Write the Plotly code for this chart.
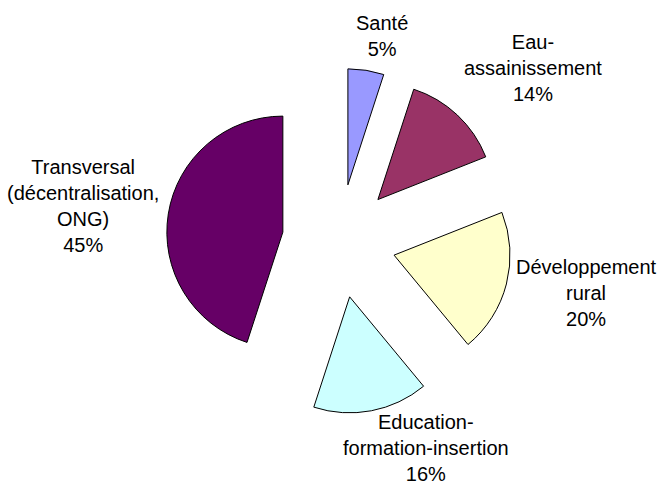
import plotly.graph_objects as go

categories = ["Santé", "Eau-<br>assainissement", "Développement<br>rural",
              "Education-<br>formation-insertion", "Transversal<br>(décentralisation,<br>ONG)"]
values = [5, 14, 20, 16, 45]
colors = ["#9999FF", "#993366", "#FFFFCC", "#CCFFFF", "#660066"]

# label block centres (screen pixels) - layout only
label_pos = [(382, 36), (533, 68), (586, 293), (426, 448), (83, 206)]

W, H = 660, 485
cx, cy, r, pull = 339, 241, 116, 0.49
half = r * (1 + pull)

fig = go.Figure(go.Pie(
    labels=categories,
    values=values,
    sort=False,
    direction="clockwise",
    rotation=0,
    pull=[pull] * len(values),
    marker=dict(colors=colors, line=dict(color="black", width=1)),
    textinfo="none",
    hoverinfo="label+percent",
    showlegend=False,
    automargin=False,
    domain=dict(x=[(cx - half) / W, (cx + half) / W],
                y=[1 - (cy + half) / H, 1 - (cy - half) / H]),
))

total = sum(values)
for lab, v, (sx, sy) in zip(categories, values, label_pos):
    fig.add_annotation(
        text=f"{lab}<br>{round(v / total * 100)}%",
        xref="paper", yref="paper",
        x=sx / W, y=1 - sy / H,
        xanchor="center", yanchor="middle",
        showarrow=False, align="center",
        font=dict(family="Liberation Sans, Arial, sans-serif", size=20, color="#000000"),
    )

fig.update_layout(
    width=W, height=H,
    autosize=False,
    margin=dict(l=0, r=0, t=0, b=0, pad=0, autoexpand=False),
    paper_bgcolor="white",
    plot_bgcolor="white",
)

fig.write_html(
    "out.html",
    config={"displayModeBar": False},
    post_script="document.body.style.margin='0';document.body.style.overflow='hidden';",
)
